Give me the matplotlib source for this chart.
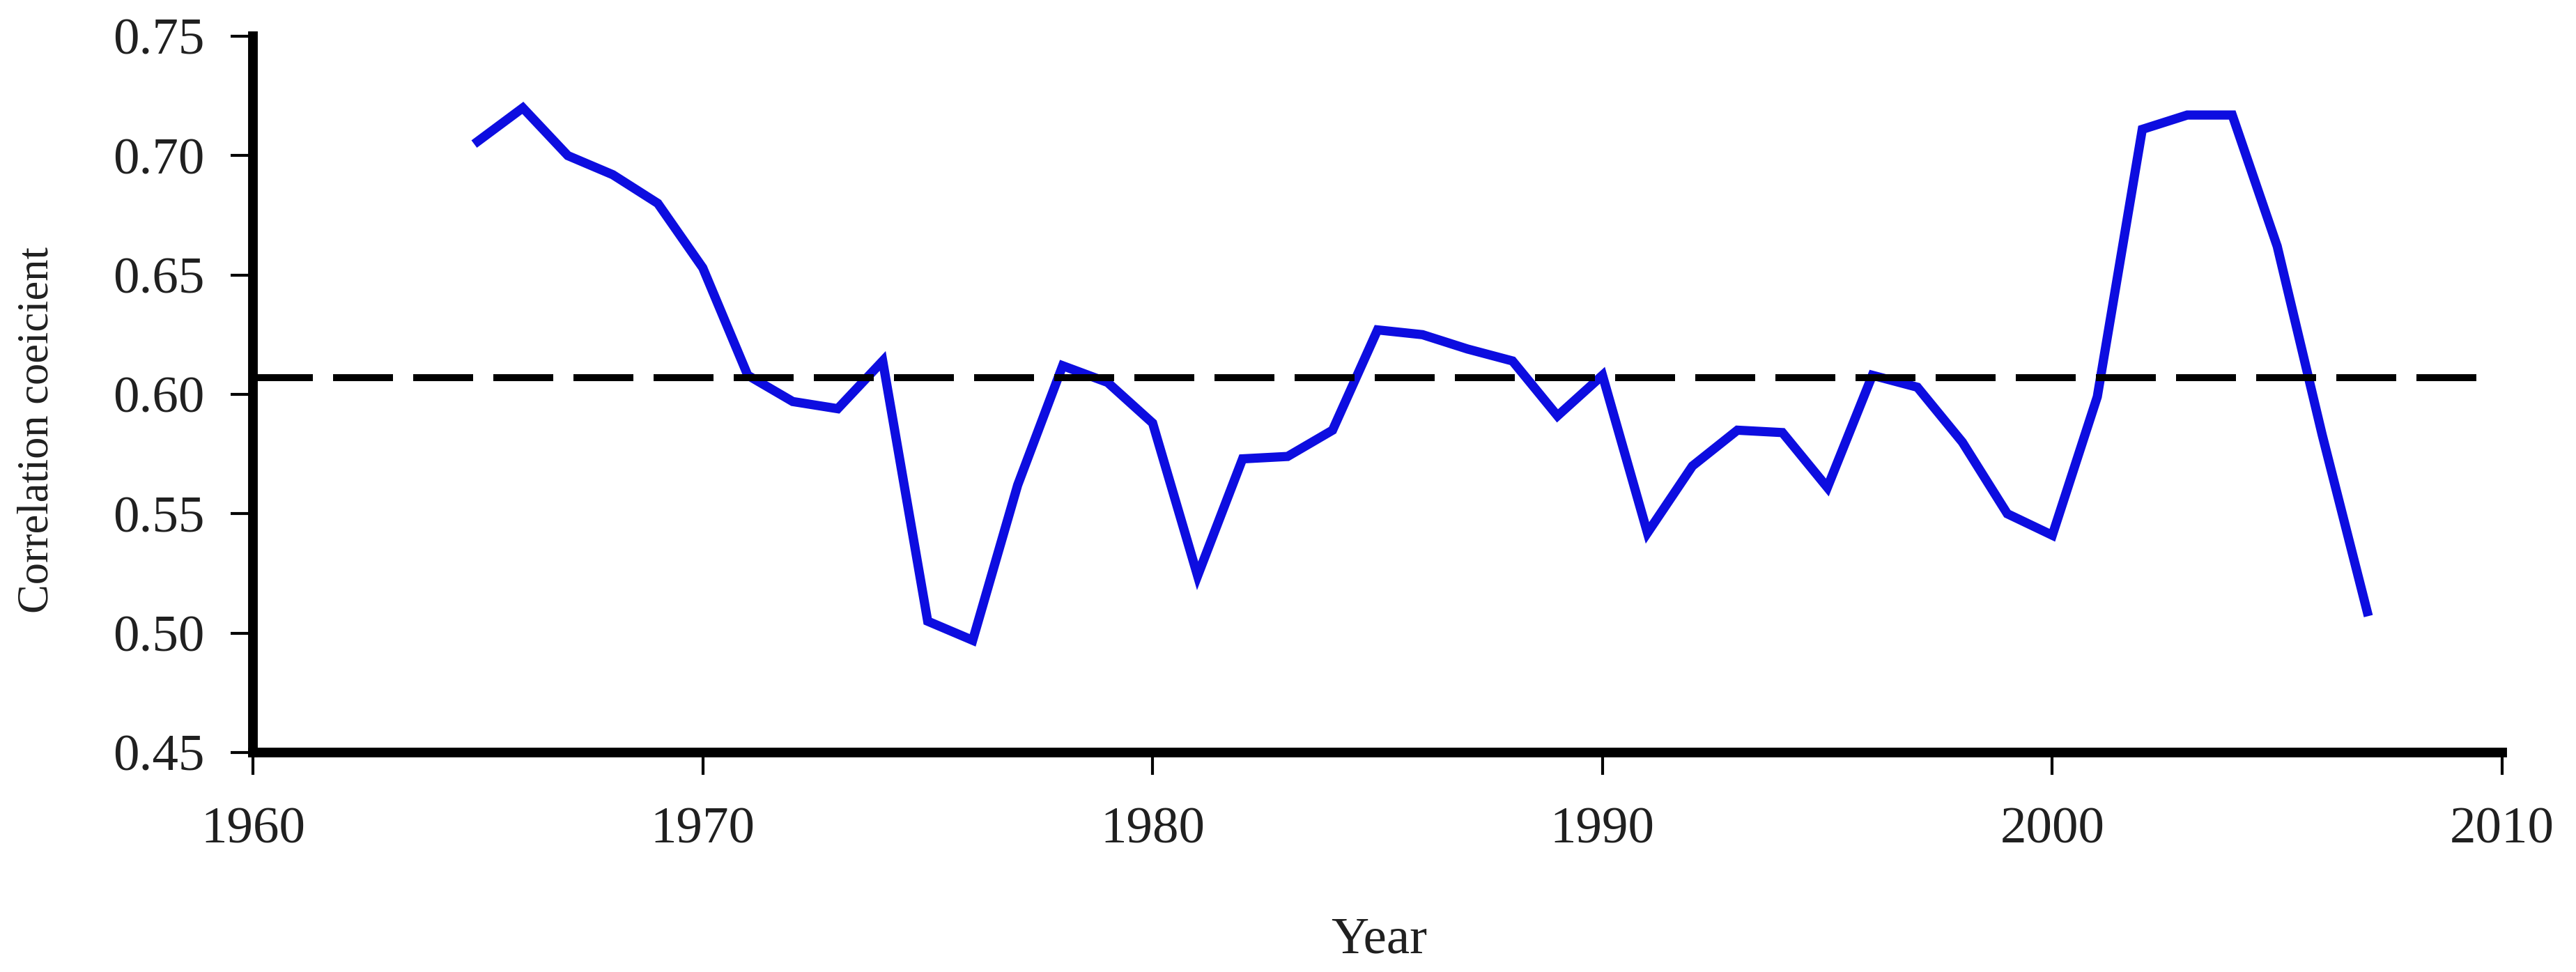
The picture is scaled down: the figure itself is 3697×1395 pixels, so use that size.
import numpy as np
import matplotlib
matplotlib.use("Agg")
import matplotlib.pyplot as plt

# Data.
years = list(range(1965, 2008))
corr = [0.706, 0.720, 0.700, 0.692, 0.680, 0.653, 0.608, 0.597, 0.594, 0.614,
        0.505, 0.497, 0.562, 0.612, 0.605, 0.588, 0.524, 0.573, 0.574, 0.585,
        0.627, 0.625, 0.619, 0.614, 0.591, 0.608, 0.542, 0.570, 0.585, 0.584,
        0.561, 0.608, 0.603, 0.580, 0.550, 0.541, 0.599, 0.711, 0.717, 0.717,
        0.662, 0.583, 0.509]
x_ticks = [1960, 1970, 1980, 1990, 2000, 2010]
y_ticks = [0.45, 0.50, 0.55, 0.60, 0.65, 0.70, 0.75]
x_label = "Year"
y_label = "Correlation coeicient"

plt.rcParams["font.family"] = ["Liberation Serif", "DejaVu Serif"]

fig = plt.figure(figsize=(36.98, 13.95), dpi=100)
ax = fig.add_axes([0.09816, 0.22581, 0.87291, 0.73691])

# Correlation series and the dashed mean line.
ax.plot(years, corr, color="#0d0de0", lw=9.5, solid_joinstyle="miter")
ax.axhline(np.mean(corr), xmax=0.992, color="black", lw=7.2,
           ls=(0, (8.6, 2.9)))

ax.set_xlim(1960, 2010)
ax.set_ylim(0.45, 0.75)
ax.set_xticks(x_ticks)
ax.set_yticks(y_ticks)
ax.set_yticklabels(["%.2f" % v for v in y_ticks])

# Axis styling.
for side in ["top", "right"]:
    ax.spines[side].set_visible(False)
for side in ["left", "bottom"]:
    ax.spines[side].set_linewidth(10)
ax.tick_params(axis="both", direction="out", length=23, width=3,
               labelsize=54, labelcolor="#202020", color="black")
ax.tick_params(axis="x", pad=33)
ax.tick_params(axis="y", pad=27)

fig.text(0.5352, 0.02007, x_label, ha="center", va="baseline",
         fontsize=54, color="#202020")
fig.text(0.0146, 0.5577, y_label, ha="center", va="center", rotation=90,
         fontsize=45, color="#202020")

fig.savefig("out.png", dpi=100)
